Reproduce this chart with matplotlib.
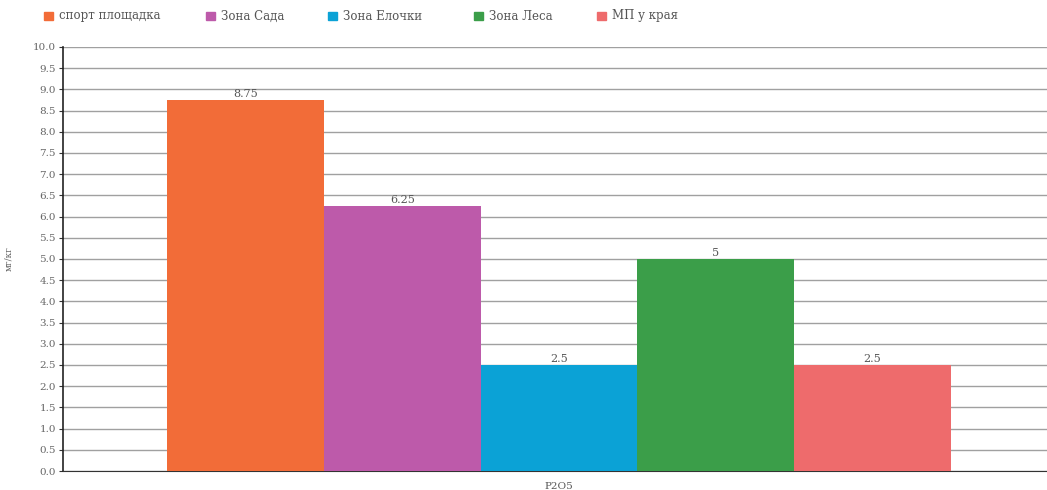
import matplotlib.pyplot as plt
from matplotlib.patches import Rectangle
import numpy as np

categories = ["P2O5"]
series_names = ["спорт площадка", "Зона Сада", "Зона Елочки", "Зона Леса", "МП у края"]
series_values = [8.75, 6.25, 2.5, 5, 2.5]
series_labels = ["8.75", "6.25", "2.5", "5", "2.5"]
colors = ["#F26C38", "#BD5AAA", "#0BA2D6", "#3B9E49", "#EE6B6C"]
y_ticks = np.arange(0, 10.01, 0.5)

plt.rcParams['font.family'] = ['DejaVu Serif', 'Liberation Serif']

W, H = 1047, 490
fig = plt.figure(figsize=(W / 100, H / 100), dpi=100)
ax = fig.add_axes([63 / W, 19 / H, 992 / W, 424 / H])

n = len(series_names)
group_w = 0.79
bw = group_w / n
x0 = np.arange(len(categories))
for i, (name, val, lab, c) in enumerate(zip(series_names, series_values, series_labels, colors)):
    xs = x0 - group_w / 2 + bw * (i + 0.5)
    bars = ax.bar(xs, [val], width=bw, color=c, label=name, zorder=3)
    for b in bars:
        ax.text(b.get_x() + b.get_width() / 2, b.get_height() + 0.02, lab,
                ha='center', va='bottom', fontsize=8, color='#555555', zorder=4)

ax.set_xlim(-0.5, 0.5)
ax.set_ylim(0, 10)
ax.set_yticks(y_ticks)
ax.set_yticklabels([f"{v:.1f}" for v in y_ticks], fontsize=7.5, color='#666666')
ax.set_xticks(x0)
ax.set_xticklabels(categories, fontsize=7.5, color='#555555')
ax.tick_params(axis='x', length=0, pad=8)
ax.tick_params(axis='y', length=3, width=0.8, color='#333333', pad=2)
ax.yaxis.grid(True, color='#a0a0a0', linewidth=1.0, zorder=0)
for s in ['top', 'right']:
    ax.spines[s].set_visible(False)
ax.spines['left'].set_color('#222222')
ax.spines['left'].set_linewidth(1.2)
ax.spines['bottom'].set_color('#333333')
ax.set_ylabel("мг/кг", fontsize=6.5, color='#666666', labelpad=14)

# legend row across the top
legend_x = [44, 206, 328, 474, 597]
for xp, name, c in zip(legend_x, series_names, colors):
    fig.patches.append(Rectangle((xp / W, 1 - 20 / H), 9 / W, 8 / H,
                                 transform=fig.transFigure, color=c))
    fig.text((xp + 15) / W, 1 - 16 / H, name, fontsize=8.5, color='#555555',
             va='center', ha='left')

fig.savefig("out.png", dpi=100, facecolor='white')
